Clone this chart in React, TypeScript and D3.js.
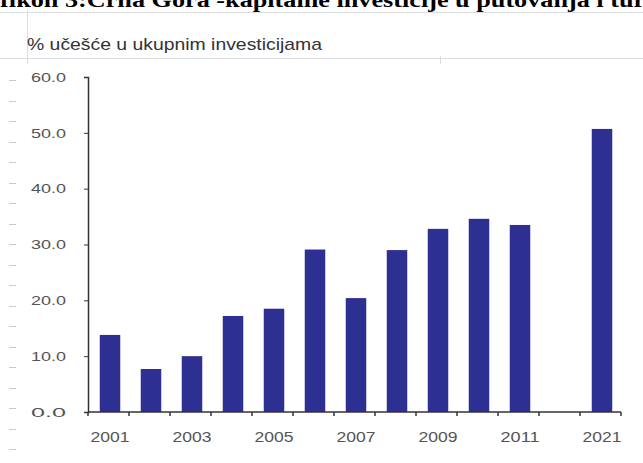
import React, { useEffect, useRef } from "react";
import * as d3 from "d3";

const years: string[] = [
  "2001", "2002", "2003", "2004", "2005", "2006", "2007",
  "2008", "2009", "2010", "2011", "", "2021",
];
const shares: (number | null)[] = [
  13.8, 7.7, 10.0, 17.2, 18.5, 29.1, 20.4, 29.0, 32.8, 34.6, 33.5, null, 50.7,
];
const yTicks: number[] = [0, 10, 20, 30, 40, 50, 60];
const xLabels: string[] = ["2001", "2003", "2005", "2007", "2009", "2011", "2021"];

const pageTitle = "Grafikon 3:Crna Gora -kapitalne investicije u putovanja i turizam";
const chartTitle = "% učešće u ukupnim investicijama";

const sans = "'Liberation Sans', Arial, sans-serif";

export default function App() {
  const ref = useRef<SVGSVGElement>(null);

  useEffect(() => {
    draw();
  }, []);

  const draw = () => {
    const W = 643;
    const H = 463;
    const svg = d3.select(ref.current);
    svg.selectAll("*").remove();

    svg.append("rect").attr("width", W).attr("height", H).attr("fill", "#fff");

    // spreadsheet gridlines showing through the scan
    const bg = svg.append("g").attr("stroke", "#dcdde3").attr("stroke-width", 1);
    bg.append("line").attr("x1", 0).attr("x2", W).attr("y1", 12.5).attr("y2", 12.5);
    bg.append("line").attr("x1", 0).attr("x2", W).attr("y1", 58.5).attr("y2", 58.5);
    bg.append("line").attr("x1", 27.5).attr("x2", 27.5).attr("y1", 10).attr("y2", 64);
    bg.append("line").attr("x1", 440.5).attr("x2", 440.5).attr("y1", 56).attr("y2", 64);
    d3.range(80, 455, 20.5).forEach((y) => {
      bg.append("line")
        .attr("x1", 9)
        .attr("x2", 16)
        .attr("y1", Math.round(y) + 0.5)
        .attr("y2", Math.round(y) + 0.5)
        .attr("stroke", "#c8c9cf");
    });

    // page heading, cut off by the top edge of the scan
    svg
      .append("text")
      .attr("x", -45)
      .attr("y", 7)
      .attr("textLength", 744)
      .attr("lengthAdjust", "spacingAndGlyphs")
      .style("font-family", "'Liberation Serif', 'Times New Roman', serif")
      .style("font-weight", "bold")
      .style("font-size", "22px")
      .attr("fill", "#000")
      .text(pageTitle);

    svg
      .append("text")
      .attr("x", 27)
      .attr("y", 50)
      .attr("textLength", 295)
      .attr("lengthAdjust", "spacingAndGlyphs")
      .style("font-family", sans)
      .style("font-size", "17px")
      .attr("fill", "#333")
      .text(chartTitle);

    const left = 88;
    const right = 621;
    const top = 77;
    const bottom = 412;

    const keys = years.map((d, i) => d || "gap" + i);

    const x = d3.scaleBand<string>()
      .domain(keys)
      .range([left, right])
      .paddingInner(0.5)
      .paddingOuter(0.25);
    const y = d3.scaleLinear().domain([0, 60]).range([bottom, top]);

    // bars
    svg
      .append("g")
      .selectAll("rect")
      .data(shares.map((v, i) => ({ key: keys[i], v })).filter((d) => d.v !== null))
      .enter()
      .append("rect")
      .attr("x", (d) => (x(d.key) as number) + 1.5)
      .attr("y", (d) => y(d.v as number))
      .attr("width", x.bandwidth())
      .attr("height", (d) => bottom - y(d.v as number))
      .attr("fill", "#2e2f92");

    // y axis
    const yAxis = svg
      .append("g")
      .attr("transform", `translate(${left},0)`)
      .call(d3.axisLeft(y).tickValues(yTicks).tickFormat(d3.format(".1f")).tickSize(4).tickPadding(18));
    yAxis.select(".domain").attr("stroke", "#333").attr("stroke-width", 1.5);
    yAxis.selectAll(".tick line").attr("stroke", "#333");
    yAxis
      .selectAll("text")
      .attr("textLength", 35)
      .attr("lengthAdjust", "spacingAndGlyphs")
      .style("font-family", sans)
      .style("font-size", "13.5px")
      .attr("fill", "#555");

    // x axis: ticks at band boundaries
    const step = (right - left) / years.length;
    const xg = svg.append("g");
    xg.append("line")
      .attr("x1", left)
      .attr("x2", right)
      .attr("y1", bottom)
      .attr("y2", bottom)
      .attr("stroke", "#333")
      .attr("stroke-width", 1.5);
    d3.range(years.length + 1).forEach((i) => {
      xg.append("line")
        .attr("x1", left + i * step)
        .attr("x2", left + i * step)
        .attr("y1", bottom)
        .attr("y2", bottom + 4)
        .attr("stroke", "#333")
        .attr("stroke-width", 1.5);
    });
    xg.selectAll("text.xl")
      .data(xLabels)
      .enter()
      .append("text")
      .attr("class", "xl")
      .attr("x", (d) => (x(d) as number) + x.bandwidth() / 2 - 18)
      .attr("y", bottom + 30)
      .attr("textLength", 39)
      .attr("lengthAdjust", "spacingAndGlyphs")
      .style("font-family", sans)
      .style("font-size", "14px")
      .attr("fill", "#555")
      .text((d) => d);
  };

  return (
    <svg
      ref={ref}
      width={643}
      height={463}
      style={{ position: "absolute", left: 0, top: 0 }}
    />
  );
}
